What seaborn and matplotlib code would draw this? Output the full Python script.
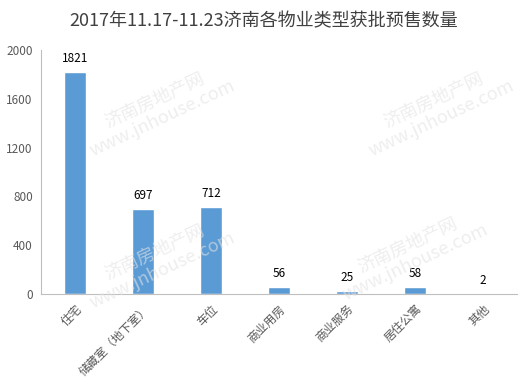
import matplotlib
matplotlib.use("Agg")
import matplotlib.pyplot as plt
import seaborn as sns
import pandas as pd

categories = ["住宅", "储藏室（地下室）", "车位", "商业用房", "商业服务", "居住公寓", "其他"]
values = [1821, 697, 712, 56, 25, 58, 2]
yticks = [0, 400, 800, 1200, 1600, 2000]
title = "2017年11.17-11.23济南各物业类型获批预售数量"

sns.set_theme(style="white")
plt.rcParams['font.family'] = ['Noto Sans CJK SC', 'DejaVu Sans']

df = pd.DataFrame({"cat": categories, "val": values})

fig = plt.figure(figsize=(5.27, 3.9), dpi=100)
ax = fig.add_axes([0.078, 0.246, 0.903, 0.626])
sns.barplot(data=df, x="cat", y="val", color="#5b9bd5", saturation=1, width=0.32, ax=ax)

ax.set_ylim(0, 2000)
ax.set_xlim(-0.5, len(categories) - 0.5)
ax.set_yticks(yticks)
ax.set_yticklabels([str(t) for t in yticks], color="#595959", fontsize=8.5)
ax.set_xticks(range(len(categories)))
ax.set_xticklabels(categories, rotation=45, ha="right", rotation_mode="anchor", color="#595959", fontsize=8.5)
ax.tick_params(axis="both", length=0, pad=6)
ax.set_xlabel("")
ax.set_ylabel("")
for s in ["top", "right"]:
    ax.spines[s].set_visible(False)
for s in ["left", "bottom"]:
    ax.spines[s].set_color("#bfbfbf")
    ax.spines[s].set_linewidth(0.8)

for i, v in enumerate(values):
    ax.annotate(str(v), (i, v), xytext=(0, 5), textcoords="offset points",
                ha="center", va="bottom", fontsize=8.5, color="#000000")

fig.text(0.5, 0.945, title, ha="center", va="center", fontsize=13, color="#404040")

# faint watermarks
for (x, y) in [(0.3, 0.72), (0.83, 0.72), (0.3, 0.33), (0.78, 0.35)]:
    fig.text(x, y, "济南房地产网\nwww.jnhouse.com", rotation=25, ha="center", va="center",
             fontsize=13, color="#e3e3e3", alpha=0.6, linespacing=1.1)

fig.savefig("out.png", dpi=100)
